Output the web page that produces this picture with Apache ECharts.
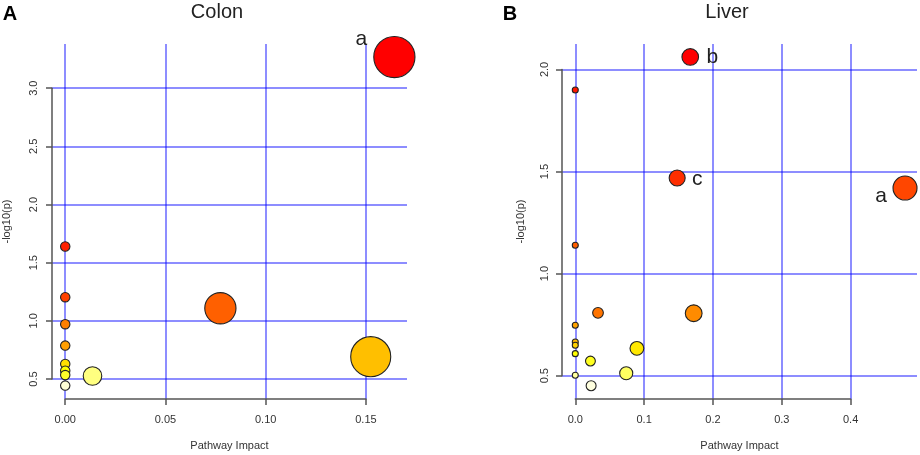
<!DOCTYPE html>
<html>
<head>
<meta charset="utf-8">
<script src="https://cdn.jsdelivr.net/npm/echarts@6/dist/echarts.min.js"></script>
<style>
  html, body { margin: 0; padding: 0; background: #fff; }
  #chart { width: 920px; height: 455px; }
</style>
</head>
<body>
<div id="chart"></div>
<script>
// ---- Colon (panel A) ----
const colonImpact = [0.1642, 0.1524, 0.0774, 0.0136, 0, 0, 0, 0, 0, 0, 0, 0];
const colonLogP   = [3.268, 0.692, 1.108, 0.526, 1.639, 1.203, 0.971, 0.787, 0.629, 0.571, 0.534, 0.443];
const colonTag    = ['a', '', '', '', '', '', '', '', '', '', '', ''];
const colonXTicks = [0, 0.05, 0.10, 0.15];
const colonYTicks = [0.5, 1.0, 1.5, 2.0, 2.5, 3.0];

// ---- Liver (panel B) ----
const liverImpact = [0.167, 0.148, 0.479, 0, 0, 0.033, 0.172, 0, 0, 0, 0.0895, 0, 0.022, 0.074, 0, 0.023];
const liverLogP   = [2.061, 1.468, 1.419, 1.899, 1.139, 0.808, 0.806, 0.747, 0.665, 0.649, 0.634, 0.608, 0.572, 0.512, 0.502, 0.451];
const liverTag    = ['b', 'c', 'a', '', '', '', '', '', '', '', '', '', '', '', '', ''];
const liverXTicks = [0, 0.1, 0.2, 0.3, 0.4];
const liverYTicks = [0.5, 1.0, 1.5, 2.0];

const FONT = '"Liberation Sans", Arial, Helvetica, sans-serif';
const GRID_BLUE = 'rgba(0,0,255,0.6)';
const AXIS_GREY = '#555';

// R's heat.colors(n)
function hsv(h, s, v) {
  const i = Math.floor(h * 6) % 6, f = h * 6 - Math.floor(h * 6);
  const p = v * (1 - s), q = v * (1 - f * s), t = v * (1 - (1 - f) * s);
  const rgb = [[v, t, p], [q, v, p], [p, v, t], [p, q, v], [t, p, v], [v, p, q]][i];
  return '#' + rgb.map(c => Math.round(c * 255).toString(16).padStart(2, '0')).join('');
}
function heatColors(n) {
  const j = Math.floor(n / 4), i = n - j, out = [];
  for (let k = 0; k < i; k++) out.push(hsv(i > 1 ? k / (i - 1) / 6 : 0, 1, 1));
  const s0 = 1 - 1 / (2 * j), s1 = 1 / (2 * j);
  for (let k = 0; k < j; k++) out.push(hsv(1 / 6, j > 1 ? s0 + (s1 - s0) * k / (j - 1) : s0, 1));
  return out;
}

// panel layout (plot region in px + data range)
const panels = [
  {
    letter: 'A', title: 'Colon', letterX: 10, titleX: 217,
    left: 52, top: 44, width: 355, height: 355,
    xRange: [-0.0066, 0.1705], yRange: [0.328, 3.38],
    impact: colonImpact, logp: colonLogP, tag: colonTag,
    xTicks: colonXTicks, yTicks: colonYTicks, xDigits: 2, yDigits: 1,
    rMin: 4.7, rMax: 20.6, yNameGap: 40, yLabelMargin: 13,
    tagOffset: { a: [-33, -18] }
  },
  {
    letter: 'B', title: 'Liver', letterX: 510, titleX: 727,
    left: 562, top: 44, width: 355, height: 355,
    xRange: [-0.0193, 0.4964], yRange: [0.386, 2.1245],
    impact: liverImpact, logp: liverLogP, tag: liverTag,
    xTicks: liverXTicks, yTicks: liverYTicks, xDigits: 1, yDigits: 1,
    rMin: 3, rMax: 12, yNameGap: 36, yLabelMargin: 12,
    tagOffset: { a: [-24, 8], b: [22, 0], c: [20, 1] }
  }
];

const grid = [], xAxis = [], yAxis = [], series = [], graphic = [];

panels.forEach((p, k) => {
  const px = v => p.left + (v - p.xRange[0]) / (p.xRange[1] - p.xRange[0]) * p.width;
  const py = v => p.top + (p.yRange[1] - v) / (p.yRange[1] - p.yRange[0]) * p.height;
  const x0 = px(p.xTicks[0]), x1 = px(p.xTicks[p.xTicks.length - 1]);
  const yTop = py(p.yTicks[p.yTicks.length - 1]), yBot = py(p.yTicks[0]);

  // main plot grid: data + blue grid lines
  grid.push({ left: p.left, top: p.top, width: p.width, height: p.height, outerBoundsMode: 'none' });
  // axis grid: spans only the tick range, like R's axes
  grid.push({ left: x0, top: yTop, width: x1 - x0, height: yBot - yTop, outerBoundsMode: 'none' });

  xAxis.push({
    type: 'value', gridIndex: 2 * k, min: p.xRange[0], max: p.xRange[1],
    axisLine: { show: false }, axisLabel: { show: false },
    axisTick: { show: false, customValues: p.xTicks },
    splitLine: { show: true, lineStyle: { color: GRID_BLUE, width: 1.5 } },
    name: 'Pathway Impact', nameLocation: 'middle', nameGap: 41,
    nameTextStyle: { fontFamily: FONT, fontSize: 11, color: '#333', verticalAlign: 'top' }
  });
  xAxis.push({
    type: 'value', gridIndex: 2 * k + 1, position: 'bottom',
    min: p.xTicks[0], max: p.xTicks[p.xTicks.length - 1],
    interval: p.xTicks[1] - p.xTicks[0], offset: p.top + p.height - yBot,
    axisLine: { show: true, onZero: false, lineStyle: { color: AXIS_GREY, width: 1.5 } },
    axisTick: { show: true, length: 6, lineStyle: { color: AXIS_GREY, width: 1.5 } },
    axisLabel: { margin: 15, fontFamily: FONT, fontSize: 11, color: '#333',
      formatter: v => v.toFixed(p.xDigits) },
    splitLine: { show: false }
  });

  yAxis.push({
    type: 'value', gridIndex: 2 * k, min: p.yRange[0], max: p.yRange[1],
    axisLine: { show: false }, axisLabel: { show: false },
    axisTick: { show: false, customValues: p.yTicks },
    splitLine: { show: true, lineStyle: { color: GRID_BLUE, width: 1.5 } },
    name: '-log10(p)', nameLocation: 'middle', nameGap: p.yNameGap, nameRotate: 90,
    nameTextStyle: { fontFamily: FONT, fontSize: 11, color: '#333' }
  });
  yAxis.push({
    type: 'value', gridIndex: 2 * k + 1, position: 'left',
    min: p.yTicks[0], max: p.yTicks[p.yTicks.length - 1],
    interval: p.yTicks[1] - p.yTicks[0], offset: x0 - p.left,
    axisLine: { show: true, onZero: false, lineStyle: { color: AXIS_GREY, width: 1.5 } },
    axisTick: { show: true, length: 6, lineStyle: { color: AXIS_GREY, width: 1.5 } },
    axisLabel: { rotate: 90, margin: p.yLabelMargin, fontFamily: FONT, fontSize: 11, color: '#333',
      formatter: v => v.toFixed(p.yDigits) },
    splitLine: { show: false }
  });

  // colour by rank of -log10(p), as heat.colors
  const order = p.logp.map((v, i) => i).sort((a, b) => p.logp[b] - p.logp[a]);
  const pal = heatColors(p.logp.length);
  const colour = [];
  order.forEach((idx, r) => { colour[idx] = pal[r]; });
  const maxImpact = Math.max(...p.impact);

  const data = p.impact.map((x, i) => {
    const item = { value: [x, p.logp[i]], itemStyle: { color: colour[i] } };
    const t = p.tag[i];
    if (t) {
      item.label = {
        show: true, formatter: t, position: 'inside', offset: p.tagOffset[t],
        fontFamily: FONT, fontSize: 21, color: '#222'
      };
    }
    return item;
  });
  // draw lower points last so overlaps look like the original
  data.sort((a, b) => b.value[1] - a.value[1]);

  series.push({
    type: 'scatter', xAxisIndex: 2 * k, yAxisIndex: 2 * k, clip: false,
    symbol: 'circle',
    symbolSize: v => 2 * (p.rMin + (p.rMax - p.rMin) * Math.sqrt(v[0] / maxImpact)),
    itemStyle: { borderColor: '#222', borderWidth: 1.1, opacity: 1 },
    label: { show: false },
    emphasis: { disabled: true },
    data: data
  });

  graphic.push({
    type: 'text', x: p.letterX, y: 14,
    style: { text: p.letter, font: 'bold 20px ' + FONT, fill: '#000',
      textAlign: 'center', textVerticalAlign: 'middle' }
  });
  graphic.push({
    type: 'text', x: p.titleX, y: 12,
    style: { text: p.title, font: '20px ' + FONT, fill: '#222',
      textAlign: 'center', textVerticalAlign: 'middle' }
  });
});

const chart = echarts.init(document.getElementById('chart'), null, { renderer: 'canvas' });
chart.setOption({
  backgroundColor: '#fff',
  animation: false,
  grid: grid,
  xAxis: xAxis,
  yAxis: yAxis,
  series: series,
  graphic: graphic
});
</script>
</body>
</html>
